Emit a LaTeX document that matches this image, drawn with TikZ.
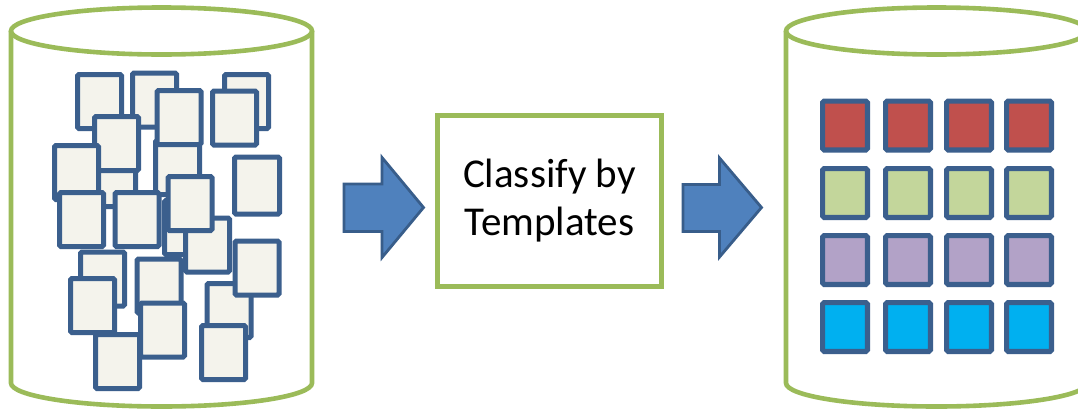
\documentclass[tikz,border=0pt]{standalone}
\usepackage{fontspec}
\setmainfont{Carlito}
\definecolor{cylgreen}{HTML}{9BBB59}
\definecolor{docfill}{HTML}{F4F3EC}
\definecolor{docline}{HTML}{3B5F8D}
\definecolor{arrowfill}{HTML}{4F81BD}
\definecolor{arrowline}{HTML}{385D8A}
\definecolor{cellred}{HTML}{C0504D}
\definecolor{cellgreen}{HTML}{C3D69B}
\definecolor{cellpurple}{HTML}{B2A2C7}
\definecolor{cellcyan}{HTML}{00B0F0}
\tikzset{
  cylline/.style={draw=cylgreen, line width=4.6pt},
  doc/.style={draw=docline, fill=docfill, line width=5pt, rounded corners=1.5pt,
    inner sep=0pt, minimum width=44pt, minimum height=54pt},
  cell/.style={draw=docline, line width=5.2pt, rounded corners=1.5pt,
    inner sep=0pt, minimum width=44.8pt, minimum height=48.8pt},
  blockarrow/.style={fill=arrowfill, draw=arrowline, line width=2.8pt, line join=miter},
  procbox/.style={draw=cylgreen, line width=4.6pt, inner sep=0pt,
    minimum width=224pt, minimum height=171pt, align=center,
    font=\fontsize{41}{48}\selectfont}
}
\begin{document}
\begin{tikzpicture}[x=1pt, y=-1pt]
  \fill[white] (0,0) rectangle (1078,410);
  \useasboundingbox (0,0) rectangle (1078,410);
  \clip (0,0) rectangle (1078,410);

  % source store
  \draw[cylline] (161.5,31) ellipse [x radius=150.5pt, y radius=23.5pt];
  \draw[cylline] (11,31) -- (11,383)
    arc[start angle=180, end angle=360, x radius=150.5pt, y radius=23.5pt]
    -- (312,31);

  % unsorted documents, back to front
  \node[doc] (dA) at (99.5,101.5) {};
  \node[doc] (dB) at (154.5,100) {};
  \node[doc] (dC) at (246.5,101.5) {};
  \node[doc] (dH) at (177.5,167.5) {};
  \node[doc] (dD) at (179,117.5) {};
  \node[doc] (dE) at (234.5,118) {};
  \node[doc] (dM) at (113.5,179.5) {};
  \node[doc] (dF) at (116.5,143.5) {};
  \node[doc] (dG) at (76.5,172.5) {};
  \node[doc] (dW) at (186.5,227.5) {};
  \node[doc] (dN) at (102.5,279) {};
  \node[doc] (dP) at (207.5,245) {};
  \node[doc] (dO) at (159,286) {};
  \node[doc] (dK) at (81.5,219.5) {};
  \node[doc] (dL) at (137,219.5) {};
  \node[doc] (dI) at (190,203.5) {};
  \node[doc, minimum height=57pt, minimum width=45pt] (dJ) at (257,185.5) {};
  \node[doc] (dT) at (92.5,305.5) {};
  \node[doc] (dV) at (162.5,330) {};
  \node[doc] (dU) at (117.5,361.5) {};
  \node[doc] (dR) at (229,310.5) {};
  \node[doc] (dQ) at (257,268) {};
  \node[doc] (dS) at (223.5,352.5) {};

  % inbound block arrow
  \draw[blockarrow] (344,184) -- (382,184) -- (382,157.5) -- (423.5,207.5)
    -- (382,257.5) -- (382,231.5) -- (344,231.5) -- cycle;

  % classification step
  \node[procbox] (classify) at (549.5,201) {Classify by\\Templates};

  % outbound block arrow
  \draw[blockarrow] (683,184.5) -- (719.5,184.5) -- (719.5,158) -- (761.5,207.5)
    -- (719.5,257) -- (719.5,231.5) -- (683,231.5) -- cycle;

  % sorted store
  \draw[cylline] (936.5,31) ellipse [x radius=150.5pt, y radius=23.5pt];
  \draw[cylline] (786,31) -- (786,383)
    arc[start angle=180, end angle=360, x radius=150.5pt, y radius=23.5pt]
    -- (1087,31);

  % sorted documents, one row per template
  \foreach \c/\x in {1/845,2/908,3/969,4/1029} {
    \node[cell, fill=cellred]    (r1c\c) at (\x,125.5) {};
    \node[cell, fill=cellgreen]  (r2c\c) at (\x,193) {};
    \node[cell, fill=cellpurple] (r3c\c) at (\x,260) {};
    \node[cell, fill=cellcyan]   (r4c\c) at (\x,327) {};
  }
\end{tikzpicture}
\end{document}
